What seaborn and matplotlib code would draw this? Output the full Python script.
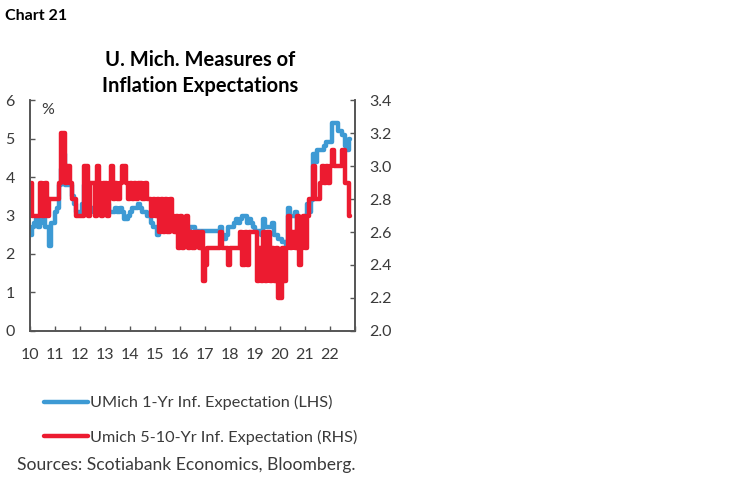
import numpy as np
import pandas as pd
import matplotlib
matplotlib.use('Agg')
import matplotlib.pyplot as plt
import seaborn as sns

# Monthly values, Jan 2010 - Oct 2022
start_month = '2010-01'

umich_1yr = [
    2.5, 2.7, 2.8, 2.9, 2.7, 2.8, 3.1, 2.7, 2.7, 2.2, 2.8, 2.8,   # 2010
    3.1, 3.2, 3.8, 4.2, 4.6, 3.8, 3.8, 3.8, 3.5, 3.3, 3.1, 3.1,   # 2011
    3.1, 3.3, 3.8, 3.3, 3.2, 3.1, 3.2, 3.2, 3.3, 3.2, 3.3, 3.2,   # 2012
    3.3, 3.3, 3.1, 3.1, 3.1, 3.2, 3.1, 3.2, 3.1, 2.9, 2.9, 3.0,   # 2013
    3.1, 3.2, 3.2, 3.2, 3.3, 3.2, 3.1, 3.1, 3.0, 3.0, 2.8, 2.7,   # 2014
    2.7, 2.5, 2.6, 2.8, 2.8, 2.8, 2.8, 2.8, 2.8, 2.7, 2.6, 2.6,   # 2015
    2.6, 2.5, 2.6, 2.5, 2.6, 2.7, 2.7, 2.6, 2.6, 2.6, 2.6, 2.6,   # 2016
    2.6, 2.6, 2.6, 2.6, 2.6, 2.6, 2.6, 2.7, 2.5, 2.4, 2.5, 2.7,   # 2017
    2.7, 2.7, 2.8, 2.9, 2.8, 2.9, 3.0, 3.0, 2.8, 2.9, 2.8, 2.7,   # 2018
    2.6, 2.6, 2.6, 2.5, 2.9, 2.7, 2.7, 2.7, 2.8, 2.5, 2.5, 2.4,   # 2019
    2.4, 2.3, 2.3, 2.2, 3.2, 3.0, 3.0, 3.1, 2.6, 2.6, 2.6, 2.5,   # 2020
    3.0, 3.3, 3.1, 3.4, 4.6, 4.4, 4.7, 4.7, 4.7, 4.8, 4.9, 4.9,   # 2021
    4.9, 5.4, 5.4, 5.4, 5.2, 5.2, 5.1, 4.8, 4.7, 5.0,             # 2022
]

umich_5_10yr = [
    2.9, 2.7, 2.7, 2.7, 2.7, 2.9, 2.7, 2.9, 2.7, 2.8, 2.8, 2.8,   # 2010
    2.8, 2.8, 2.9, 3.2, 3.2, 2.9, 3.0, 2.9, 2.8, 2.8, 2.7, 2.7,   # 2011
    2.7, 2.7, 3.0, 3.0, 2.7, 2.9, 2.9, 2.7, 3.0, 2.9, 2.7, 2.9,   # 2012
    2.9, 2.7, 2.9, 3.0, 2.8, 2.9, 2.8, 2.9, 3.0, 3.0, 2.9, 2.8,   # 2013
    2.9, 2.8, 2.9, 2.8, 2.9, 2.9, 2.8, 2.9, 2.8, 2.8, 2.7, 2.8,   # 2014
    2.7, 2.8, 2.6, 2.8, 2.6, 2.8, 2.6, 2.8, 2.7, 2.6, 2.7, 2.5,   # 2015
    2.7, 2.5, 2.6, 2.7, 2.5, 2.6, 2.5, 2.6, 2.6, 2.5, 2.6, 2.3,   # 2016
    2.4, 2.5, 2.5, 2.5, 2.5, 2.5, 2.5, 2.6, 2.5, 2.5, 2.5, 2.4,   # 2017
    2.5, 2.5, 2.5, 2.5, 2.5, 2.6, 2.4, 2.6, 2.4, 2.6, 2.6, 2.6,   # 2018
    2.6, 2.3, 2.5, 2.3, 2.6, 2.3, 2.6, 2.3, 2.5, 2.3, 2.5, 2.2,   # 2019
    2.2, 2.5, 2.3, 2.5, 2.7, 2.5, 2.6, 2.5, 2.7, 2.4, 2.5, 2.7,   # 2020
    2.5, 2.7, 2.8, 2.8, 3.0, 2.8, 2.8, 2.9, 3.0, 2.9, 3.0, 2.9,   # 2021
    3.0, 3.1, 3.0, 3.0, 3.0, 3.0, 3.1, 2.9, 2.9, 2.7,             # 2022
]

year_ticks = list(range(2010, 2024))
year_labels = ['10', '11', '12', '13', '14', '15', '16', '17', '18', '19', '20', '21', '22', '']
lhs_ticks = [0, 1, 2, 3, 4, 5, 6]
rhs_ticks = [2.0, 2.2, 2.4, 2.6, 2.8, 3.0, 3.2, 3.4]

label_1yr = 'UMich 1-Yr Inf. Expectation (LHS)'
label_5_10 = 'Umich 5-10-Yr Inf. Expectation (RHS)'

dates = pd.date_range(start_month, periods=len(umich_1yr), freq='MS')
df = pd.DataFrame({
    't': dates.year + (dates.month - 0.5) / 12.0,
    'one_yr': umich_1yr,
    'five_ten': umich_5_10yr,
})

blue = '#3d9ad4'
red = '#ec1b30'
text_col = '#3a3a3a'
spine_col = '#555555'

sns.set_style('white')
plt.rcParams['font.family'] = ['Lato', 'DejaVu Sans']

fig = plt.figure(figsize=(7.5, 4.82), dpi=100)
ax = fig.add_axes([0.04, 0.3133, 0.4333, 0.4792])
ax2 = ax.twinx()

# blue on the LHS, red on the RHS (drawn on top)
sns.lineplot(data=df, x='t', y='one_yr', ax=ax, color=blue, linewidth=3.2,
             drawstyle='steps-mid')
sns.lineplot(data=df, x='t', y='five_ten', ax=ax2, color=red, linewidth=3.2,
             drawstyle='steps-mid')

ax.set_xlim(2010, 2023)
ax.set_ylim(0, 6)
ax2.set_ylim(2.0, 3.4)
ax.set_xticks(year_ticks)
ax.set_xticklabels(year_labels)
ax.set_yticks(lhs_ticks)
ax2.set_yticks(rhs_ticks)
ax2.set_yticklabels([f'{v:.1f}' for v in rhs_ticks])
ax.set_xlabel('')
ax.set_ylabel('')
ax2.set_ylabel('')

for a in (ax, ax2):
    a.spines['top'].set_visible(False)
    for s in ('left', 'right', 'bottom'):
        a.spines[s].set_color(spine_col)
        a.spines[s].set_linewidth(1.2)
    a.tick_params(direction='in', length=3.5, width=1.0, color=spine_col,
                  labelsize=11.5, labelcolor=text_col, pad=11)
ax.tick_params(axis='x', bottom=True, pad=12)
ax.tick_params(axis='y', left=True)
ax2.tick_params(axis='y', right=True, pad=10)
ax.set_zorder(0)
ax2.set_zorder(1)
ax2.patch.set_visible(False)

ax.text(0.035, 0.985, '%', transform=ax.transAxes, fontsize=11.5,
        color=text_col, va='top', ha='left')

fig.text(5 / 750, 1 - 16 / 482, 'Chart 21', fontsize=11.5, fontweight='bold',
         color='black', va='center', ha='left')
fig.text(200 / 750, 1 - 73 / 482, 'U. Mich. Measures of\nInflation Expectations',
         fontsize=14.5, fontweight='bold', color='black', ha='center',
         va='center', linespacing=1.35)

handles = [plt.Line2D([], [], color=blue, linewidth=3.2),
           plt.Line2D([], [], color=red, linewidth=3.2)]
leg = fig.legend(handles, [label_1yr, label_5_10], loc='center left',
                 bbox_to_anchor=(29 / 750, 1 - 420 / 482), frameon=False,
                 fontsize=11.7, handlelength=2.75, handletextpad=0.1,
                 labelspacing=1.2)
for t in leg.get_texts():
    t.set_color(text_col)

fig.text(17 / 750, 1 - 465 / 482, 'Sources: Scotiabank Economics, Bloomberg.',
         fontsize=12.6, color=text_col, ha='left', va='center')

fig.savefig('out.png', dpi=100)
